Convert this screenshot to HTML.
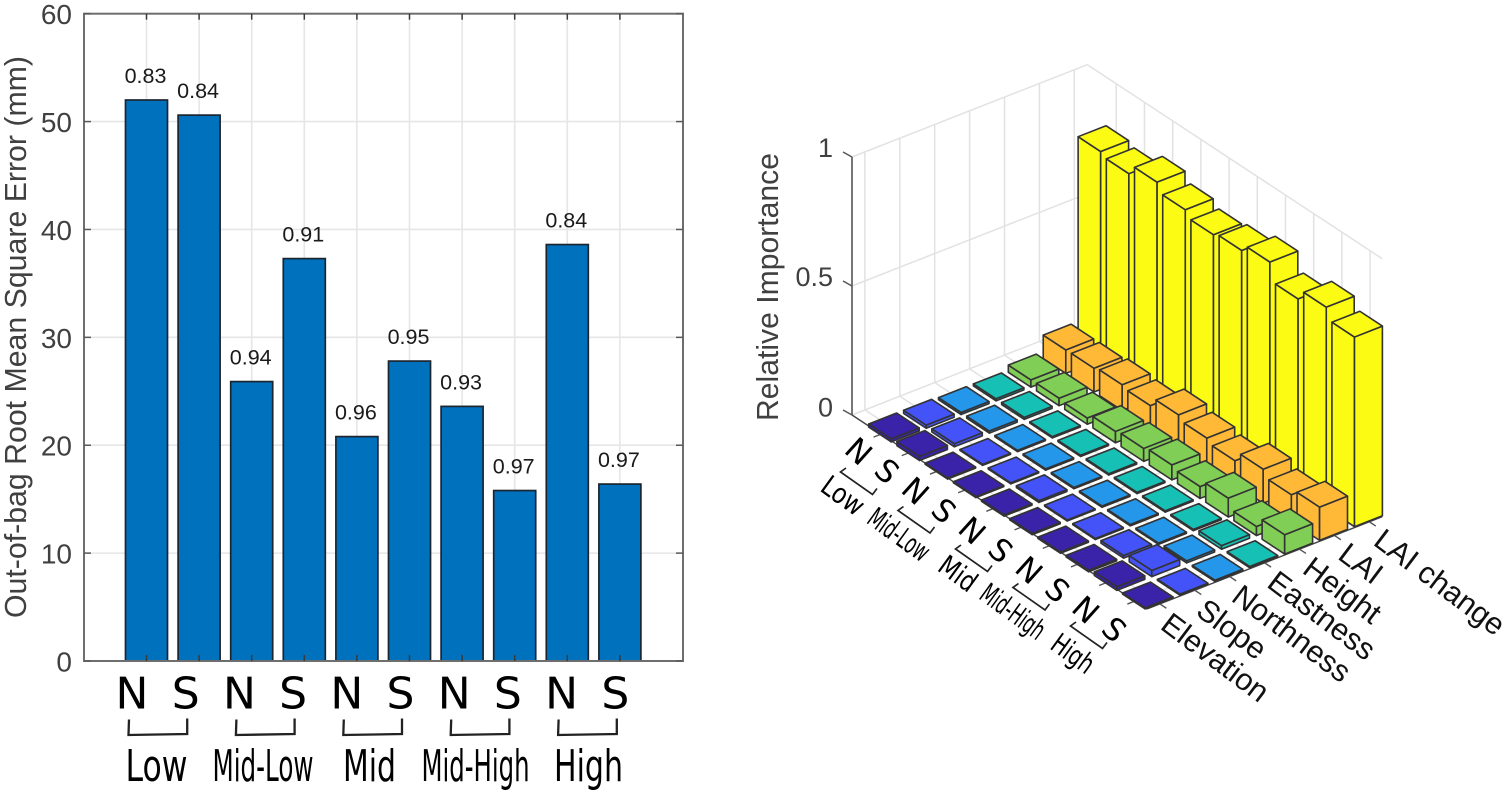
<!DOCTYPE html>
<html lang="en">
<head>
<meta charset="utf-8">
<title>Out-of-bag error and relative importance</title>
<style>
  html, body { margin: 0; padding: 0; background: #fff; }
  body { width: 1505px; height: 793px; overflow: hidden; }
  svg { display: block; }
  text { font-family: "Liberation Sans", sans-serif; }
  .wide { font-family: "DejaVu Sans", "Liberation Sans", sans-serif; fill: #000; }
</style>
</head>
<body>
<svg id="figure" xmlns="http://www.w3.org/2000/svg" width="1505" height="793" viewBox="0 0 1505 793">
  <g id="bar-chart"></g>
  <g id="bar3d-chart"></g>

  <text transform="translate(26,618) rotate(-90)" font-size="30.5" fill="#404040" textLength="562" lengthAdjust="spacingAndGlyphs">Out-of-bag Root Mean Square Error (mm)</text>
  <text class="wide" x="125.5" y="781" font-size="44" textLength="62" lengthAdjust="spacingAndGlyphs">Low</text>
  <text class="wide" x="212.5" y="781" font-size="44" textLength="101" lengthAdjust="spacingAndGlyphs">Mid-Low</text>
  <text class="wide" x="343" y="781" font-size="44" textLength="53" lengthAdjust="spacingAndGlyphs">Mid</text>
  <text class="wide" x="421.5" y="781" font-size="44" textLength="108" lengthAdjust="spacingAndGlyphs">Mid-High</text>
  <text class="wide" x="554" y="781" font-size="44" textLength="69" lengthAdjust="spacingAndGlyphs">High</text>

  <text transform="translate(778,421) rotate(-90)" font-size="30.5" fill="#404040" textLength="268" lengthAdjust="spacingAndGlyphs">Relative Importance</text>
  <text class="wide" transform="translate(842,497) rotate(36)" text-anchor="middle" dominant-baseline="middle" font-size="28" textLength="46" lengthAdjust="spacingAndGlyphs">Low</text>
  <text class="wide" transform="translate(898,536) rotate(36)" text-anchor="middle" dominant-baseline="middle" font-size="28" textLength="69" lengthAdjust="spacingAndGlyphs">Mid-Low</text>
  <text class="wide" transform="translate(957,575) rotate(36)" text-anchor="middle" dominant-baseline="middle" font-size="28" textLength="40" lengthAdjust="spacingAndGlyphs">Mid</text>
  <text class="wide" transform="translate(1012,613) rotate(36)" text-anchor="middle" dominant-baseline="middle" font-size="28" textLength="73" lengthAdjust="spacingAndGlyphs">Mid-High</text>
  <text class="wide" transform="translate(1072,655) rotate(36)" text-anchor="middle" dominant-baseline="middle" font-size="28" textLength="46" lengthAdjust="spacingAndGlyphs">High</text>
</svg>

<script>
// ---------- data: left chart ----------
const aspectLabels = ['N', 'S', 'N', 'S', 'N', 'S', 'N', 'S', 'N', 'S'];
const rmseValues = [52.0, 50.6, 25.9, 37.3, 20.8, 27.8, 23.6, 15.8, 38.6, 16.4];
const r2Labels = ['0.83', '0.84', '0.94', '0.91', '0.96', '0.95', '0.93', '0.97', '0.84', '0.97'];
const rmseTicks = [0, 10, 20, 30, 40, 50, 60];

// ---------- data: right chart ----------
const featureNames = ['Elevation', 'Slope', 'Northness', 'Eastness', 'Height', 'LAI', 'LAI change'];
const elevationImportance = [0.012, 0.016, 0.004, 0.004, 0.005, 0.005, 0.005, 0.006, 0.014, 0.004];
const slopeImportance = [0.012, 0.012, 0.004, 0.004, 0.007, 0.004, 0.004, 0.010, 0.024, 0.004];
const northnessImportance = [0.008, 0.008, 0.005, 0.005, 0.005, 0.005, 0.005, 0.005, 0.008, 0.005];
const eastnessImportance = [0.008, 0.008, 0.005, 0.005, 0.005, 0.005, 0.005, 0.005, 0.014, 0.005];
const heightImportance = [0.028, 0.029, 0.024, 0.044, 0.050, 0.058, 0.046, 0.073, 0.035, 0.075];
const laiImportance = [0.091, 0.092, 0.100, 0.091, 0.127, 0.109, 0.093, 0.132, 0.105, 0.129];
const laiChangeImportance = [0.807, 0.793, 0.832, 0.797, 0.772, 0.783, 0.810, 0.739, 0.779, 0.735];
const importanceTicks = [0, 0.5, 1];
const importanceTickLabels = ['0', '0.5', '1'];

const SVGNS = 'http://www.w3.org/2000/svg';
function svgEl(tag, attrs, parent, text) {
  const el = document.createElementNS(SVGNS, tag);
  for (const k in attrs) el.setAttribute(k, attrs[k]);
  if (text !== undefined) el.textContent = text;
  parent.appendChild(el);
  return el;
}

// ========== left chart ==========
(function () {
  const root = document.getElementById('bar-chart');
  const left = 84, right = 683, top = 13.7, bottom = 661;
  const yScale = v => bottom - v * (bottom - top) / 60;
  const xScale = i => 146.5 + 52.6 * i;
  const labelX = i => 132 + 53.7 * i;

  const bg = svgEl('rect', { x: left, y: top, width: right - left, height: bottom - top, fill: '#fff' }, root);
  
  

  rmseTicks.forEach(t => {
    if (t === 0 || t === 60) return;
    const g = svgEl('line', { x1: left, x2: right, y1: yScale(t), y2: yScale(t), stroke: '#e6e6e6', 'stroke-width': 1.6 }, root);
    
    
  });
  rmseValues.forEach((v, i) => {
    const g = svgEl('line', { x1: xScale(i), x2: xScale(i), y1: top, y2: bottom, stroke: '#e6e6e6', 'stroke-width': 1.6 }, root);
    
    
  });

  rmseValues.forEach((v, i) => {
    const w = 42;
    const bar = svgEl('rect', { x: xScale(i) - w / 2, y: yScale(v), width: w, height: bottom - yScale(v), fill: '#0072bd', stroke: '#1b2530', 'stroke-width': 1.7 }, root);
    
    
    const lab = svgEl('text', { x: xScale(i) - 1, y: yScale(v) - 17, 'text-anchor': 'middle', 'font-size': 21.5, fill: '#1a1a1a' }, root, r2Labels[i]);
    
    
  });

  const frame = svgEl('rect', { x: left, y: top, width: right - left, height: bottom - top, fill: 'none', stroke: '#6e6e6e', 'stroke-width': 2 }, root);
  
  

  rmseTicks.forEach(t => {
    const y = yScale(t);
    [[left, left + 7], [right, right - 7]].forEach(p => {
      const tk = svgEl('line', { x1: p[0], x2: p[1], y1: y, y2: y, stroke: '#5a5a5a', 'stroke-width': 1.5 }, root);
      
      
    });
    const lab = svgEl('text', { x: 72, y: y + 10.5, 'text-anchor': 'end', 'font-size': 28, fill: '#404040' }, root, String(t));
    
    
  });

  aspectLabels.forEach((s, i) => {
    const x = xScale(i);
    [[bottom, bottom - 6], [top, top + 6]].forEach(p => {
      const tk = svgEl('line', { x1: x, x2: x, y1: p[0], y2: p[1], stroke: '#3a3a3a', 'stroke-width': 1.5 }, root);
      
      
    });
    const lab = svgEl('text', { class: 'wide', x: labelX(i), y: 708.5, 'text-anchor': 'middle', 'font-size': 44 }, root, s);
    
    
  });

  for (let k = 0; k < 5; k++) {
    const a = labelX(k * 2) - 3, b = labelX(k * 2 + 1) + 1.5;
    const br = svgEl('path', { d: `M${a} 719.5 L${a - 0.5} 735 L${b} 734 L${b} 718.5`, fill: 'none', stroke: '#222', 'stroke-width': 2.3 }, root);
    
    
  }
})();

// ========== right chart ==========
(function () {
  const root = document.getElementById('bar3d-chart');
  const originX = 852, originY = 415, zSpan = 258;
  const xMin = -0.03, xMax = 10.43, yMin = 0.63, yMax = 7.37;
  const ux = [28.2, 18.55], uy = [34.9, -13.7];
  const project = (x, y, z) => [
    originX + (x - xMin) * ux[0] + (y - yMin) * uy[0],
    originY + (x - xMin) * ux[1] + (y - yMin) * uy[1] - z * zSpan
  ];
  const pts = list => list.map(p => p[0].toFixed(2) + ',' + p[1].toFixed(2)).join(' ');
  function seg(a, b, stroke, width, name) {
    const l = svgEl('line', { x1: a[0], y1: a[1], x2: b[0], y2: b[1], stroke: stroke, 'stroke-width': width }, root);
    
    
  }
  const GRID = '#e2e2e2';

  // wall & floor grid
  for (let y = 1; y <= 7; y++) {
    seg(project(xMin, y, 0), project(xMin, y, 1), GRID, 1.5, 'left-wall-gridline');
    seg(project(xMin, y, 0), project(xMax, y, 0), GRID, 1.5, 'floor-gridline');
  }
  for (let x = 1; x <= 10; x++) {
    seg(project(x, yMax, 0), project(x, yMax, 1), GRID, 1.5, 'back-wall-gridline');
    seg(project(x, yMin, 0), project(x, yMax, 0), GRID, 1.5, 'floor-gridline');
  }
  [0, 0.5, 1].forEach(z => {
    seg(project(xMin, yMin, z), project(xMin, yMax, z), GRID, 1.5, 'left-wall-level-line');
    seg(project(xMin, yMax, z), project(xMax, yMax, z), GRID, 1.5, 'back-wall-level-line');
  });

  // axes
  seg(project(xMin, yMin, 0), project(xMin, yMin, 1), '#555', 1.6, 'z-axis-line');
  seg(project(xMin, yMin, 0), project(xMax, yMin, 0), '#444', 1.4, 'x-axis-line');
  seg(project(xMax, yMin, 0), project(xMax, yMax, 0), '#444', 1.4, 'y-axis-line');

  importanceTicks.forEach((t, i) => {
    const p = project(xMin, yMin, t);
    seg([p[0] - 9, p[1] - 5], p, '#555', 1.5, 'z-tick');
    const lab = svgEl('text', { x: p[0] - 19, y: p[1] - (t === 0 ? -1.5 : 0), 'text-anchor': 'end', 'font-size': 27, fill: '#404040' }, root, importanceTickLabels[i]);
    
    
  });
  aspectLabels.forEach((s, i) => {
    const p = project(i + 1, yMin, 0);
    seg(p, [p[0] - 7.5, p[1] + 3], '#555', 1.4, 'x-tick');
    const lab = svgEl('text', { class: 'wide', transform: `translate(${858 + 28.4 * i},${452 + 19.8 * i}) rotate(42)`, 'text-anchor': 'middle', 'dominant-baseline': 'central', 'font-size': 31 }, root, s);
    
    
  });
  for (let k = 0; k < 5; k++) {
    const bx = 846 + 57.5 * k, by = 468 + 38.5 * k;
    const br = svgEl('path', { d: `M${bx} ${by} l-5.5 4 l32 22.5 l4.5 -6`, fill: 'none', stroke: '#222', 'stroke-width': 1.7 }, root);
    
    
  }
  featureNames.forEach((s, i) => {
    const p = project(xMax, i + 1, 0);
    seg(p, [p[0] + 6.5, p[1] + 4.3], '#555', 1.4, 'y-tick');
    const lab = svgEl('text', { transform: `translate(${1159 + 35.5 * i},${628 - 14 * i}) rotate(37)`, 'font-size': 30.5, fill: '#111' }, root, s);
    
    
  });

  // bars, painted back to front
  const featureValues = [elevationImportance, slopeImportance, northnessImportance, eastnessImportance, heightImportance, laiImportance, laiChangeImportance];
  const featureColors = ['#3a23a8', '#4453f7', '#2497ea', '#17c0b5', '#80ce56', '#ffb937', '#fbfb14'];
  const d = 0.4;
  function bar(x, y, z, color, name) {
    const g = svgEl('g', { fill: color, stroke: '#333', 'stroke-width': 1.6, 'stroke-linejoin': 'round' }, root);
    
    
    const lf0 = project(x - d, y - d, 0), fr0 = project(x + d, y - d, 0), rt0 = project(x + d, y + d, 0);
    const lf1 = project(x - d, y - d, z), fr1 = project(x + d, y - d, z), rt1 = project(x + d, y + d, z), bk1 = project(x - d, y + d, z);
    svgEl('polygon', { points: pts([lf0, fr0, fr1, lf1]) }, g);
    svgEl('polygon', { points: pts([fr0, rt0, rt1, fr1]) }, g);
    svgEl('polygon', { points: pts([lf1, fr1, rt1, bk1]) }, g);
  }
  for (let f = featureValues.length - 1; f >= 0; f--) {
    featureValues[f].forEach((v, i) => {
      bar(i + 1, f + 1, v, featureColors[f], 'bar3d-feature-' + (f + 1) + '-cat-' + (i + 1));
    });
  }
})();
</script>
</body>
</html>
